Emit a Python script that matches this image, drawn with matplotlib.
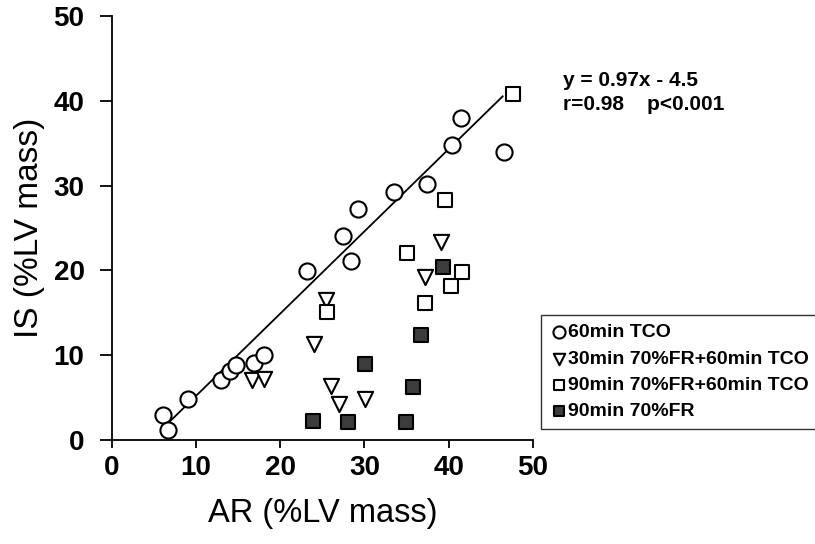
import matplotlib
matplotlib.use("Agg")
import matplotlib.pyplot as plt
import numpy as np

plt.rcParams['font.family'] = ['Liberation Sans', 'DejaVu Sans']

# 60min TCO (circles)
tco_ar = [6.1, 6.7, 9.1, 13.0, 14.0, 14.8, 16.9, 18.1, 23.2, 27.4, 28.4, 29.2, 33.5, 37.4, 40.4, 41.4, 46.5]
tco_is = [2.9, 1.2, 4.9, 7.1, 8.1, 8.8, 9.1, 10.0, 19.9, 24.0, 21.1, 27.2, 29.2, 30.2, 34.8, 37.9, 34.0]

# 30min 70%FR + 60min TCO (down triangles)
fr30_ar = [16.7, 18.1, 24.0, 25.4, 26.0, 27.0, 30.1, 37.2, 39.1]
fr30_is = [7.1, 7.2, 11.3, 16.5, 6.4, 4.3, 4.9, 19.2, 23.3]

# 90min 70%FR + 60min TCO (open squares)
fr90tco_ar = [25.6, 35.1, 37.2, 39.6, 40.3, 41.6, 47.6]
fr90tco_is = [15.1, 22.1, 16.2, 28.3, 18.2, 19.8, 40.8]

# 90min 70%FR (filled squares)
fr90_ar = [23.9, 28.0, 30.1, 34.9, 35.8, 36.7, 39.3]
fr90_is = [2.2, 2.1, 9.0, 2.1, 6.3, 12.4, 20.4]

# regression line
slope, intercept = 0.97, -4.5
line_ar = [6.9, 46.4]

xticks = [0, 10, 20, 30, 40, 50]
yticks = [0, 10, 20, 30, 40, 50]

fig = plt.figure(figsize=(8.15, 5.44), dpi=100)
ax = fig.add_axes([0.137, 0.191, 0.517, 0.780])

lx = np.array(line_ar)
ax.plot(lx, slope * lx + intercept, color='black', lw=1.3, zorder=1)

common = dict(linewidths=1.5, edgecolors='black', clip_on=False, zorder=3)
ax.scatter(tco_ar, tco_is, marker='o', s=135, facecolors='white', label='60min TCO', **common)
ax.scatter(fr30_ar, fr30_is, marker='v', s=120, facecolors='white', label='30min 70%FR+60min TCO', **common)
ax.scatter(fr90tco_ar, fr90tco_is, marker='s', s=105, facecolors='white', label='90min 70%FR+60min TCO', **common)
ax.scatter(fr90_ar, fr90_is, marker='s', s=105, facecolors='#3c3c3c', label='90min 70%FR', **common)

ax.set_xlim(0, 50)
ax.set_ylim(0, 50)
ax.set_xticks(xticks)
ax.set_yticks(yticks)
for lab in ax.get_xticklabels() + ax.get_yticklabels():
    lab.set_fontweight('bold')
ax.tick_params(axis='both', labelsize=20, width=1.3, direction='out')
ax.tick_params(axis='x', length=6, pad=5)
ax.tick_params(axis='y', length=8.5, pad=11)
ax.spines['top'].set_visible(False)
ax.spines['right'].set_visible(False)
ax.spines['left'].set_linewidth(1.3)
ax.spines['bottom'].set_linewidth(1.3)

ax.set_xlabel('AR (%LV mass)', fontsize=23.5, labelpad=12)
ax.set_ylabel('IS (%LV mass)', fontsize=24, labelpad=6)

fig.text(0.691, 0.852, 'y = 0.97x - 4.5', fontsize=15, fontweight='bold', va='center')
fig.text(0.691, 0.808, 'r=0.98    p<0.001', fontsize=15, fontweight='bold', va='center')

leg = fig.legend(loc='upper left', bbox_to_anchor=(0.664, 0.421),
                 prop={'weight': 'bold', 'size': 14}, frameon=True, fancybox=False,
                 edgecolor='black', handletextpad=0.05, handlelength=0.9,
                 borderpad=0.45, labelspacing=0.45, borderaxespad=0, markerscale=0.75)
leg.get_frame().set_linewidth(1.0)

fig.savefig('out.png', dpi=100)
